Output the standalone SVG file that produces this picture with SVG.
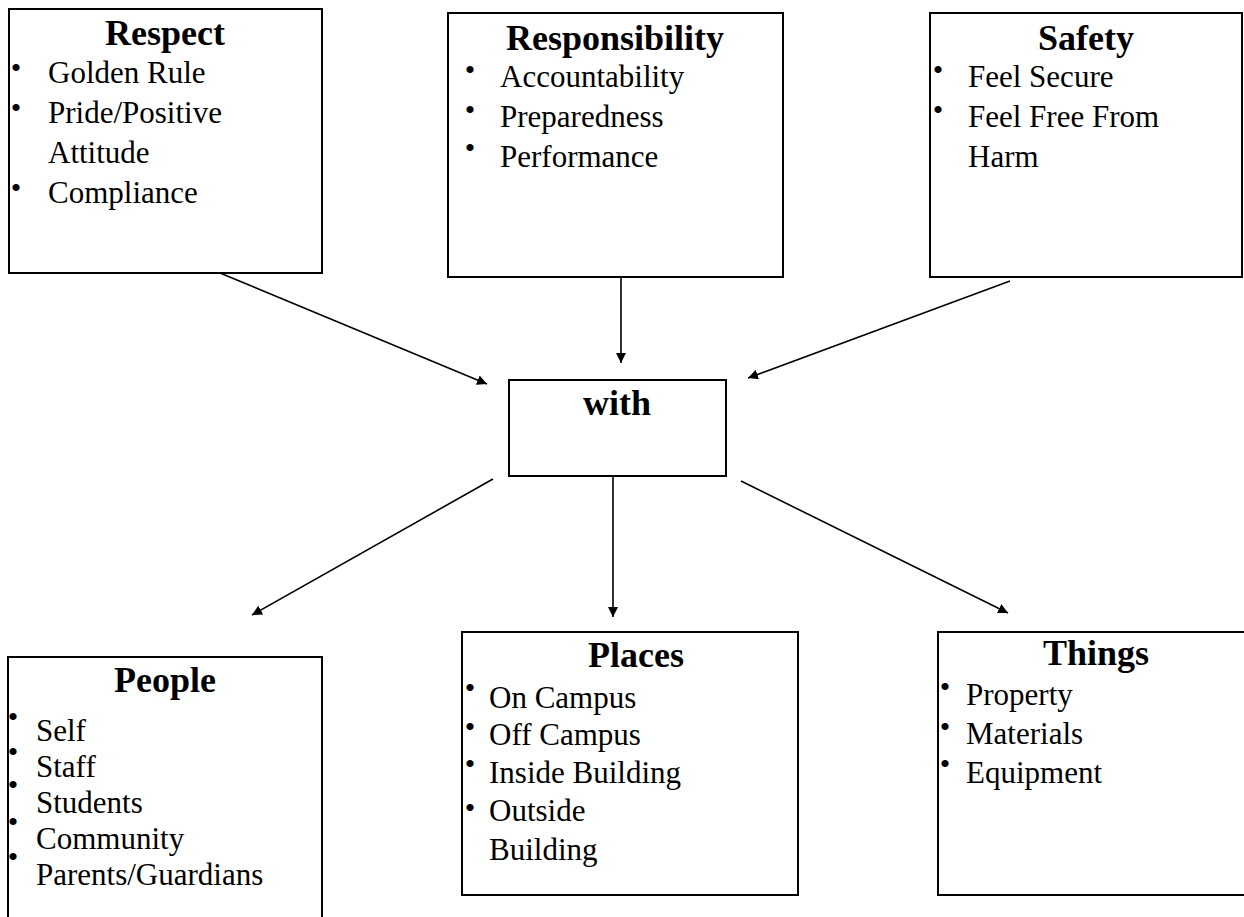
<svg xmlns="http://www.w3.org/2000/svg" width="1244" height="917" viewBox="0 0 1244 917">
<style>
.box{fill:#fff;stroke:#000;stroke-width:2}
.t{font-family:"Liberation Serif","Times New Roman",serif;font-size:36px;font-weight:bold;text-anchor:middle;fill:#000}
.i{font-family:"Liberation Serif","Times New Roman",serif;font-size:31px;fill:#000}
.b{font-family:"Liberation Serif","Times New Roman",serif;font-size:30px;fill:#000;text-anchor:middle}
.c{stroke:#000;stroke-width:1.6;fill:none;marker-end:url(#ah)}
</style>
<defs>
<marker id="ah" markerUnits="userSpaceOnUse" markerWidth="11" markerHeight="10" refX="10" refY="5" orient="auto">
<path d="M0,0 L10,5 L0,10 Z" fill="#000"/>
</marker>
</defs>
<rect width="1244" height="917" fill="#fff"/>
<g id="connectors">
<line class="c" x1="220" y1="273" x2="487" y2="384"/>
<line class="c" x1="621" y1="268" x2="621" y2="363"/>
<line class="c" x1="1010" y1="281" x2="748" y2="378"/>
<line class="c" x1="493" y1="479" x2="252" y2="615"/>
<line class="c" x1="613" y1="476" x2="613" y2="617"/>
<line class="c" x1="741" y1="481" x2="1008" y2="613"/>
</g>
<g id="respect">
<rect class="box" x="9" y="9" width="313" height="264"/>
<text class="t" x="165" y="45">Respect</text>
<text class="b" x="16" y="78">•</text><text class="i" x="48" y="83">Golden Rule</text>
<text class="b" x="16" y="118">•</text><text class="i" x="48" y="123">Pride/Positive</text>
<text class="i" x="48" y="163">Attitude</text>
<text class="b" x="16" y="198">•</text><text class="i" x="48" y="203">Compliance</text>
</g>
<g id="responsibility">
<rect class="box" x="448" y="13" width="335" height="264"/>
<text class="t" x="615" y="50">Responsibility</text>
<text class="b" x="470" y="80">•</text><text class="i" x="500" y="87">Accountability</text>
<text class="b" x="470" y="120">•</text><text class="i" x="500" y="127">Preparedness</text>
<text class="b" x="470" y="158">•</text><text class="i" x="500" y="167">Performance</text>
</g>
<g id="safety">
<rect class="box" x="930" y="13" width="312" height="264"/>
<text class="t" x="1086" y="50">Safety</text>
<text class="b" x="938" y="80">•</text><text class="i" x="968" y="87">Feel Secure</text>
<text class="b" x="938" y="120">•</text><text class="i" x="968" y="127">Feel Free From</text>
<text class="i" x="968" y="167">Harm</text>
</g>
<g id="with">
<rect class="box" x="509" y="380" width="217" height="96"/>
<text class="t" x="617" y="415">with</text>
</g>
<g id="people">
<path class="box" d="M8,920 L8,657 L322,657 L322,920"/>
<text class="t" x="165" y="692">People</text>
<text class="b" x="13" y="727">•</text><text class="i" x="36" y="741">Self</text>
<text class="b" x="13" y="762">•</text><text class="i" x="36" y="777">Staff</text>
<text class="b" x="13" y="795">•</text><text class="i" x="36" y="813">Students</text>
<text class="b" x="13" y="832">•</text><text class="i" x="36" y="849">Community</text>
<text class="b" x="13" y="867">•</text><text class="i" x="36" y="885">Parents/Guardians</text>
</g>
<g id="places">
<rect class="box" x="462" y="632" width="336" height="263"/>
<text class="t" x="636" y="667">Places</text>
<text class="b" x="470" y="698">•</text><text class="i" x="489" y="708">On Campus</text>
<text class="b" x="470" y="737">•</text><text class="i" x="489" y="745">Off Campus</text>
<text class="b" x="470" y="774">•</text><text class="i" x="489" y="783">Inside Building</text>
<text class="b" x="470" y="818">•</text><text class="i" x="489" y="821">Outside</text>
<text class="i" x="489" y="860">Building</text>
</g>
<g id="things">
<path class="box" d="M1250,632 L938,632 L938,895 L1250,895"/>
<text class="t" x="1096" y="665">Things</text>
<text class="b" x="945" y="697">•</text><text class="i" x="966" y="705">Property</text>
<text class="b" x="945" y="737">•</text><text class="i" x="966" y="744">Materials</text>
<text class="b" x="945" y="774">•</text><text class="i" x="966" y="783">Equipment</text>
</g>
</svg>
